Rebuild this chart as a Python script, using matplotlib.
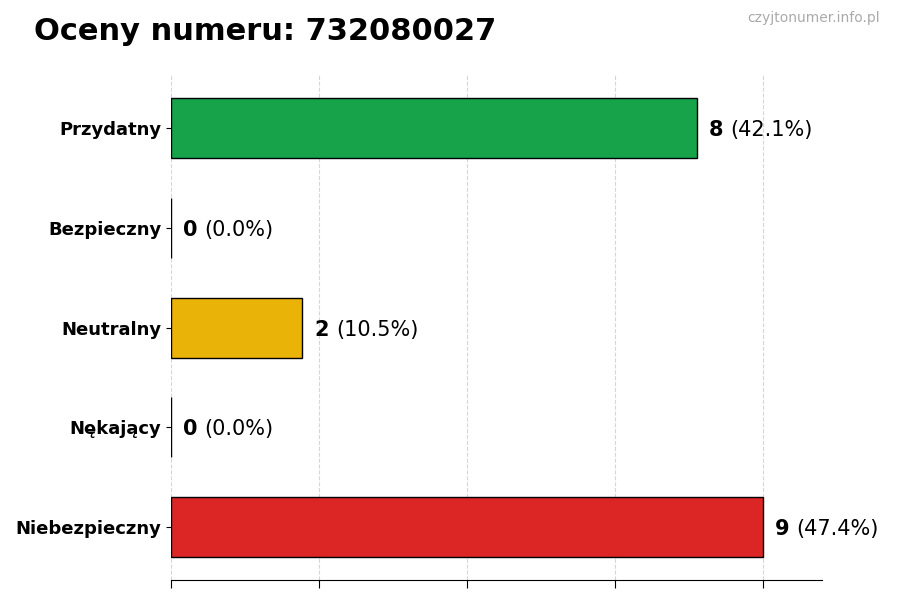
import numpy as np
import matplotlib
matplotlib.use('Agg')
import matplotlib.pyplot as plt
from matplotlib.transforms import offset_copy

# chart data
categories = ['Przydatny', 'Bezpieczny', 'Neutralny', 'Nękający', 'Niebezpieczny']
counts = [8, 0, 2, 0, 9]
colors = ['#16a34a', '#22c55e', '#eab308', '#f97316', '#dc2626']
total = sum(counts)

fig = plt.figure(figsize=(9, 6), dpi=100)
ax = fig.add_axes([0.19, 0.033, 0.723, 0.842])

y = np.arange(len(categories))[::-1]
ax.barh(y, counts, height=0.6, color=colors, edgecolor='black', linewidth=1, zorder=3)

ax.set_yticks(y)
ax.set_yticklabels(categories, fontsize=13, fontweight='bold')
ax.set_xlim(0, max(counts) * 1.1)
ax.set_xticks(np.linspace(0, max(counts), 5))
ax.set_xticklabels([])
ax.grid(axis='x', linestyle='--', color='#cccccc', alpha=0.8, zorder=0)
for s in ['top', 'right', 'left']:
    ax.spines[s].set_visible(False)
ax.tick_params(axis='x', length=6)

fig.canvas.draw()
renderer = fig.canvas.get_renderer()
for yi, c in zip(y, counts):
    t = ax.text(c + 0.18, yi, str(c), fontsize=15, fontweight='bold', va='center_baseline', ha='left')
    w = t.get_window_extent(renderer).width
    tr = offset_copy(ax.transData, fig=fig, x=w + 7, y=0, units='dots')
    ax.text(c + 0.18, yi, f'({c / total * 100:.1f}%)', fontsize=15, va='center_baseline', ha='left', transform=tr)

fig.text(0.038, 0.948, 'Oceny numeru: 732080027', fontsize=22, fontweight='bold', va='center')
fig.text(0.978, 0.97, 'czyjtonumer.info.pl', fontsize=10, color='#aaaaaa', ha='right', va='center')

fig.savefig('out.png', dpi=100)
